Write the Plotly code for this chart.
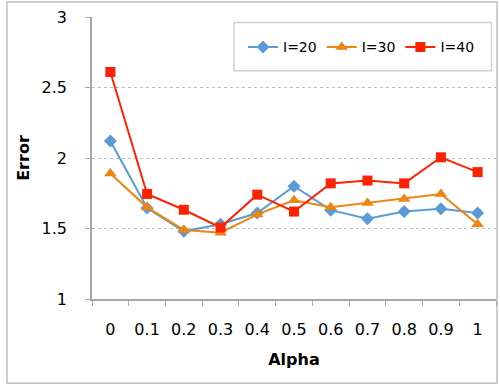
import plotly.graph_objects as go

alpha = ["0", "0.1", "0.2", "0.3", "0.4", "0.5", "0.6", "0.7", "0.8", "0.9", "1"]
err_l20 = [2.12, 1.645, 1.48, 1.53, 1.61, 1.80, 1.63, 1.57, 1.62, 1.64, 1.61]
err_l30 = [1.89, 1.65, 1.49, 1.47, 1.60, 1.70, 1.65, 1.68, 1.71, 1.745, 1.53]
err_l40 = [2.61, 1.745, 1.633, 1.507, 1.74, 1.62, 1.82, 1.84, 1.82, 2.005, 1.90]

series = [
    ("I=20", err_l20, "#5B9BD5", "diamond", 10),
    ("I=30", err_l30, "#EE8512", "triangle-up", 11),
    ("I=40", err_l40, "#FF2200", "square", 10),
]

fig = go.Figure()
for name, vals, color, sym, sz in series:
    fig.add_trace(go.Scatter(
        x=alpha, y=vals, name=name, mode="lines+markers",
        line=dict(color=color, width=2),
        marker=dict(symbol=sym, size=sz, color=color),
    ))

font = "DejaVu Sans"
L, R, T, B = 92, 496, 16.5, 299.5
W, H = R - L, B - T
fig.update_layout(
    width=500, height=388,
    margin=dict(l=L, r=500 - R, t=T, b=388 - B),
    paper_bgcolor="white", plot_bgcolor="white",
    font=dict(family=font, size=15, color="black"),
    showlegend=True,
    legend=dict(
        orientation="h",
        x=(243 - L) / W, xanchor="left", y=(B - 47) / H, yanchor="middle",
        font=dict(family=font, size=14),
        bgcolor="rgba(0,0,0,0)", borderwidth=0,
        itemwidth=30,
    ),
    shapes=[
        dict(type="rect", xref="paper", yref="paper",
             x0=(7 - L) / W, x1=(497 - L) / W,
             y0=(B - 384) / H, y1=(B - 1.5) / H,
             line=dict(color="#BFBFBF", width=1.5), layer="below"),
        dict(type="rect", xref="paper", yref="paper",
             x0=(234 - L) / W, x1=(491.5 - L) / W,
             y0=(B - 70.5) / H, y1=(B - 22) / H,
             line=dict(color="#D0D0D0", width=1.5), fillcolor="white", layer="above"),
    ],
    xaxis=dict(
        type="category", range=[-0.5, 10.5], automargin=False,
        showline=True, linecolor="#A6A6A6", linewidth=1.5,
        ticks="outside", ticklen=5, tickcolor="#A6A6A6", tickson="boundaries",
        showgrid=False, tickfont=dict(family=font, size=16),
        ticklabelstandoff=15,
        title=dict(text="<b>Alpha</b>", font=dict(family=font, size=16), standoff=16),
    ),
    yaxis=dict(
        range=[1, 3], dtick=0.5, automargin=False,
        showline=True, linecolor="#A6A6A6", linewidth=1.5,
        ticks="outside", ticklen=5, tickcolor="#A6A6A6",
        showgrid=True, gridcolor="#BFBFBF", griddash="dot", gridwidth=1,
        zeroline=False, tickfont=dict(family=font, size=16),
        ticklabelstandoff=15,
        title=dict(text="<b>Error</b>", font=dict(family=font, size=16), standoff=8),
    ),
)

fig.write_html("out.html")
